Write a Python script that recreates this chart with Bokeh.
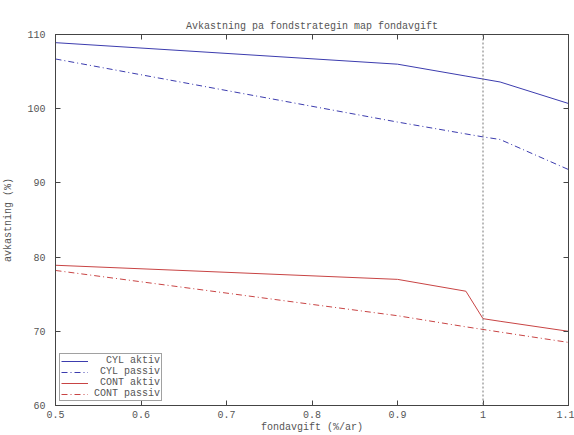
from bokeh.plotting import figure
from bokeh.models import LinearAxis, Span, Legend, LegendItem, FixedTicker, Range1d
from bokeh.embed import file_html
from bokeh.resources import INLINE

fee = [0.5, 0.9, 0.98, 1.0, 1.02, 1.1]
cyl_aktiv = [108.9, 106.0, 104.4, 104.0, 103.6, 100.7]
cyl_passiv = [106.7, 98.2, 96.6, 96.2, 95.85, 91.8]
cont_aktiv = [78.9, 77.0, 75.4, 71.7, 71.35, 70.0]
cont_passiv = [78.2, 72.1, 70.6, 70.25, 69.9, 68.5]

x_ticks = [0.5, 0.6, 0.7, 0.8, 0.9, 1.0, 1.1]
x_tick_labels = {0.5: "0.5", 0.6: "0.6", 0.7: "0.7", 0.8: "0.8", 0.9: "0.9", 1.0: "1", 1.1: "1.1"}
y_ticks = [60, 70, 80, 90, 100, 110]

FONT = "Liberation Mono"
TXT = "#555555"
AX = "#444444"
BLUE = "#3c3cae"
RED = "#c84444"

p = figure(width=574, height=435, output_backend="svg", toolbar_location=None,
           x_range=Range1d(0.5, 1.1), y_range=Range1d(60, 110),
           min_border_left=48, min_border_right=6, min_border_top=34, min_border_bottom=29,
           x_axis_label="fondavgift (%/ar)", y_axis_label="avkastning (%)")
p.title.text = "Avkastning pa fondstrategin map fondavgift"
p.title.align = "center"
p.title.text_font = FONT
p.title.text_font_size = "10px"
p.title.text_font_style = "normal"
p.title.text_color = TXT
p.title.standoff = 6

p.xgrid.visible = False
p.ygrid.visible = False
p.outline_line_color = AX
p.outline_line_width = 1
p.background_fill_color = "white"
p.border_fill_color = "white"

def style_axis(ax, labels=True):
    ax.axis_line_color = AX
    ax.major_tick_line_color = AX
    ax.major_tick_in = 5
    ax.major_tick_out = 0
    ax.minor_tick_line_color = None
    ax.major_label_text_font = FONT
    ax.major_label_text_font_size = "10px"
    ax.major_label_text_color = TXT
    ax.axis_label_text_font = FONT
    ax.axis_label_text_font_size = "10px"
    ax.axis_label_text_font_style = "normal"
    ax.axis_label_text_color = TXT
    if not labels:
        ax.major_label_text_color = None
        ax.major_label_text_font_size = "1px"
        ax.major_label_standoff = 0

xa = p.xaxis[0]
xa.ticker = FixedTicker(ticks=x_ticks)
xa.major_label_overrides = x_tick_labels
style_axis(xa)
xa.major_label_standoff = 5
xa.axis_label_standoff = 1

ya = p.yaxis[0]
ya.ticker = FixedTicker(ticks=y_ticks)
style_axis(ya)
ya.major_label_standoff = 10
ya.axis_label_standoff = 10

top = LinearAxis(ticker=FixedTicker(ticks=x_ticks))
style_axis(top, labels=False)
p.add_layout(top, "above")
right = LinearAxis(ticker=FixedTicker(ticks=y_ticks))
style_axis(right, labels=False)
p.add_layout(right, "right")

p.add_layout(Span(location=1.0, dimension="height", line_color="#777777",
                  line_width=1, line_dash="2 2"))

r1 = p.line(fee, cyl_aktiv, line_color=BLUE, line_width=1)
r2 = p.line(fee, cyl_passiv, line_color=BLUE, line_width=1, line_dash="6 3 1 3")
r3 = p.line(fee, cont_aktiv, line_color=RED, line_width=1)
r4 = p.line(fee, cont_passiv, line_color=RED, line_width=1, line_dash="6 3 1 3")

nb = "\u00a0"
legend = Legend(items=[
    LegendItem(label=nb * 2 + "CYL aktiv", renderers=[r1]),
    LegendItem(label=nb + "CYL passiv", renderers=[r2]),
    LegendItem(label=nb + "CONT aktiv", renderers=[r3]),
    LegendItem(label="CONT passiv", renderers=[r4]),
], location="bottom_left")
legend.label_text_font = FONT
legend.label_text_font_size = "10px"
legend.label_text_color = TXT
legend.label_height = 8
legend.glyph_height = 8
legend.glyph_width = 27
legend.label_standoff = 6
legend.spacing = 0
legend.padding = 1
legend.margin = 4
legend.border_line_color = AX
legend.border_line_width = 1
legend.background_fill_alpha = 1
p.add_layout(legend)

open("out.html", "w").write(file_html(p, INLINE))
